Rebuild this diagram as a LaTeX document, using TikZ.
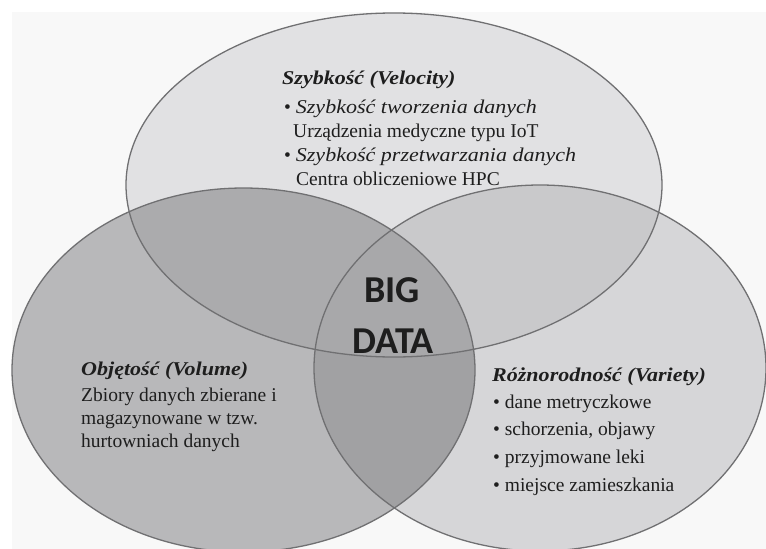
\documentclass[tikz,border=0pt]{standalone}
\usepackage{fontspec}
\setmainfont{Liberation Serif}
\newfontfamily\bdfont{Carlito}
\newfontfamily\wideserif{Liberation Serif}[FakeStretch=1.13]
\newcommand{\wit}[1]{{\wideserif\itshape #1}}
\newcommand{\wbi}[1]{{\wideserif\bfseries\itshape #1}}
\definecolor{cT}{HTML}{E1E1E3}
\definecolor{cL}{HTML}{B8B8BA}
\definecolor{cR}{HTML}{D6D6D8}
\definecolor{cTL}{HTML}{ABABAD}
\definecolor{cTR}{HTML}{C9C9CB}
\definecolor{cLR}{HTML}{A1A1A3}
\definecolor{cC}{HTML}{A8A8AA}
\definecolor{edge}{HTML}{707072}
\definecolor{txtcol}{HTML}{1E1E1E}
\definecolor{bgc}{HTML}{F8F8F8}
\tikzset{
  txt/.style={anchor=base west, inner sep=0pt, text=txtcol, font=\fontsize{19.5}{24}\selectfont},
  bigtxt/.style={anchor=base, inner sep=0pt, text=txtcol, font=\bdfont\bfseries\fontsize{38}{46}\selectfont},
  outline/.style={draw=edge, line width=1.3pt}
}
\begin{document}
\begin{tikzpicture}[x=1pt,y=-1pt]
\useasboundingbox (0,0) rectangle (766,549);
\fill[white] (0,0) rectangle (766,549);
\fill[bgc] (12,12) rectangle (766,549);
% base fills
\fill[cT] (394,185) ellipse [x radius=268pt, y radius=172pt];
\fill[cL] (243.5,370) ellipse [x radius=231.5pt, y radius=182pt];
\fill[cR] (540,368) ellipse [x radius=226pt, y radius=183pt];
% pairwise overlaps
\begin{scope}
  \clip (394,185) ellipse [x radius=268pt, y radius=172pt];
  \fill[cTL] (243.5,370) ellipse [x radius=231.5pt, y radius=182pt];
  \fill[cTR] (540,368) ellipse [x radius=226pt, y radius=183pt];
\end{scope}
\begin{scope}
  \clip (243.5,370) ellipse [x radius=231.5pt, y radius=182pt];
  \fill[cLR] (540,368) ellipse [x radius=226pt, y radius=183pt];
\end{scope}
\begin{scope}
  \clip (394,185) ellipse [x radius=268pt, y radius=172pt];
  \clip (243.5,370) ellipse [x radius=231.5pt, y radius=182pt];
  \fill[cC] (540,368) ellipse [x radius=226pt, y radius=183pt];
\end{scope}
% outlines
\draw[outline] (394,185) ellipse [x radius=268pt, y radius=172pt];
\draw[outline] (243.5,370) ellipse [x radius=231.5pt, y radius=182pt];
\draw[outline] (540,368) ellipse [x radius=226pt, y radius=183pt];
% top text
\node[txt] (t1) at (282,84) {\wbi{Szybkość (Velocity)}};
\node[txt] (t2) at (284,113) {• \wit{Szybkość tworzenia danych}};
\node[txt] (t3) at (293,137) {Urządzenia medyczne typu IoT};
\node[txt] (t4) at (284,161) {• \wit{Szybkość przetwarzania danych}};
\node[txt] (t5) at (296,185) {Centra obliczeniowe HPC};
% left text
\node[txt] (l1) at (81,375) {\wbi{Objętość (Volume)}};
\node[txt] (l2) at (81,401) {Zbiory danych zbierane i};
\node[txt] (l3) at (81,424) {magazynowane w tzw.};
\node[txt] (l4) at (81,447) {hurtowniach danych};
% right text
\node[txt] (r1) at (492,381) {\wbi{Różnorodność (Variety)}};
\node[txt] (r2) at (493,408) {• dane metryczkowe};
\node[txt] (r3) at (493,435) {• schorzenia, objawy};
\node[txt] (r4) at (493,463) {• przyjmowane leki};
\node[txt] (r5) at (493,491) {• miejsce zamieszkania};
% centre
\node[bigtxt] (big) at (392,302) {BIG};
\node[bigtxt] (data) at (393,353) {DATA};
\end{tikzpicture}
\end{document}
